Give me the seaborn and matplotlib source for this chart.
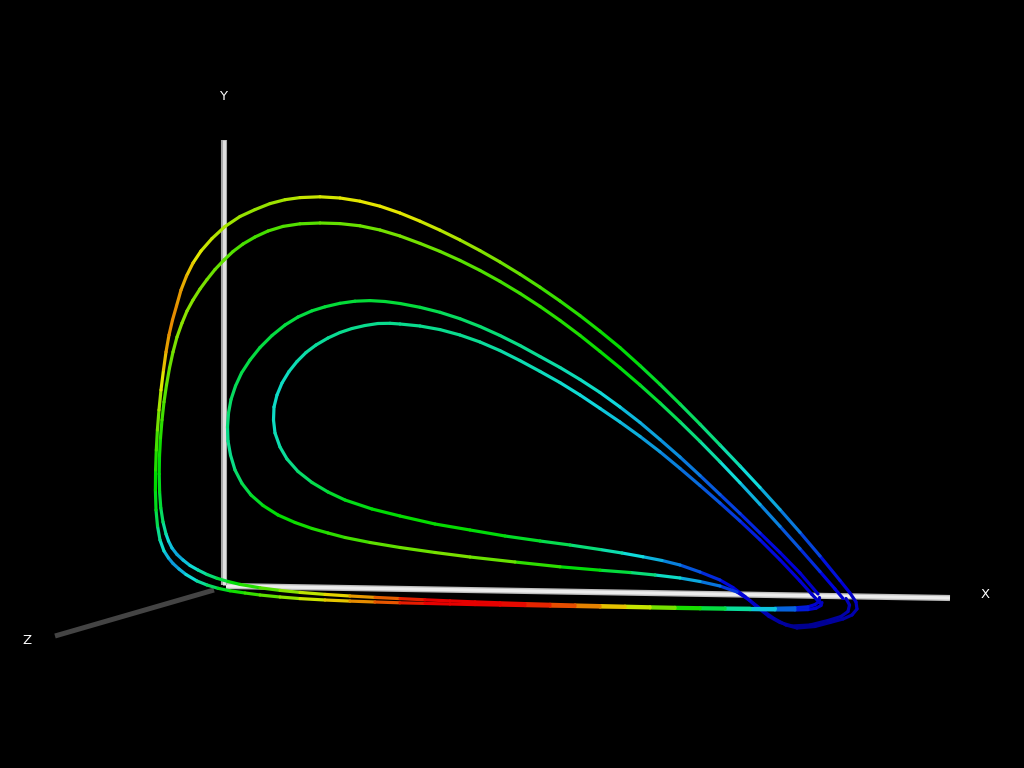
import matplotlib
matplotlib.use("Agg")
import matplotlib.pyplot as plt
import seaborn as sns
import pandas as pd

inner_x = [820, 812, 800, 780, 760, 740, 720, 700, 680, 660,
           640, 620, 600, 580, 560, 540, 520, 500, 480, 460,
           440, 420, 400, 390, 378, 365, 352, 340, 328, 316,
           306, 297, 289, 282, 277, 274, 273.5, 275, 280, 287,
           298, 312, 328, 345, 372, 400, 435, 470, 505, 540,
           570, 600, 622, 643, 662, 680, 700, 720, 733, 745,
           757, 769, 780, 792, 810, 828, 841, 848, 849.5, 846]
inner_y = [603, 594.5, 581, 559.8, 539.8, 521, 503, 485.5, 468.4, 451.8,
           436.4, 422, 408.4, 395, 382.6, 371.4, 360.6, 350.6, 342, 335,
           329.6, 326, 324, 323.3, 323.5, 325.5, 328.5, 332.5, 338, 345,
           352.5, 361.5, 371.5, 383, 395, 407, 420, 433, 447, 459,
           471.5, 482.5, 492, 500, 509, 516, 524, 530, 536, 541,
           545, 549.5, 553, 556.8, 560.5, 565, 572, 580, 587.5, 596.5,
           607, 616.5, 622.5, 626, 625, 620.5, 616.5, 611.5, 605, 598.5]
inner_speed = [.14, .16, .18, .20, .22, .24, .27, .29, .31, .33,
               .35, .37, .39, .40, .42, .43, .44, .45, .46, .47,
               .47, .47, .47, .47, .47, .47, .47, .47, .46, .46,
               .45, .44, .43, .42, .42, .42, .42, .43, .45, .47,
               .49, .52, .55, .57, .59, .60, .61, .60, .58, .55,
               .51, .47, .42, .38, .34, .30, .26, .22, .20, .17,
               .14, .10, .07, .05, .05, .07, .09, .11, .13, .15]

second_x = [843, 835, 820, 800, 780, 760, 740, 720, 700, 680,
            660, 640, 620, 600, 580, 560, 540, 520, 500, 480,
            460, 440, 420, 400, 380, 360, 340, 320, 300, 283,
            268, 255, 243, 233, 224, 215, 207, 200, 193, 187,
            182, 177, 173, 169.5, 166.5, 164, 162, 160.5, 159.5, 159.2,
            159.6, 160.8, 163, 166, 168.5, 172, 177, 183, 190, 198,
            207, 217, 228, 240, 260, 280, 300, 325, 350, 375,
            400, 425, 450, 475, 500, 525, 550, 575, 600, 625,
            650, 675, 700, 725, 750, 775, 795, 808, 815, 819, 819]
second_y = [598.5, 589, 571.6, 548.8, 526.4, 504.4, 482.8, 461.8, 441.4, 421.8,
            403, 385, 367.8, 351.4, 335.4, 320.4, 306.4, 293.4, 281.4, 270.4,
            260.4, 251.4, 243.4, 236, 230, 225.8, 223.6, 223, 223.8, 226.4,
            231, 237, 244, 251.5, 260, 269.5, 279.5, 289, 300, 311,
            323, 337, 352, 368, 385, 402, 420, 438, 456, 474,
            492, 508, 522, 534, 541, 548, 554.5, 560, 565.5, 570,
            574.5, 578.3, 581.5, 584.4, 587.8, 590.4, 592.4, 594.4, 596, 597.4,
            598.6, 599.8, 600.9, 601.9, 602.8, 603.6, 604.3, 605, 605.6, 606.2,
            606.8, 607.3, 607.7, 608, 608.2, 608.2, 607.8, 606.8, 604.6, 601.5, 597]
second_speed = [.17, .19, .22, .26, .30, .34, .38, .43, .47, .51,
                .54, .57, .60, .60, .62, .63, .64, .65, .66, .67,
                .68, .69, .70, .70, .70, .69, .69, .68, .67, .67,
                .66, .66, .66, .67, .68, .69, .70, .71, .71, .72,
                .72, .71, .70, .69, .68, .67, .65, .62, .60, .58,
                .57, .53, .49, .43, .39, .36, .35, .36, .39, .43,
                .47, .52, .57, .61, .65, .69, .74, .79, .84, .89,
                .94, 1.0, 1.0, 1.0, 1.0, .98, .95, .91, .86, .80,
                .74, .66, .58, .50, .42, .33, .25, .20, .17, .15, .14]

third_x = [818, 800, 780, 760, 740, 720, 700, 680, 660, 640,
           620, 600, 580, 560, 540, 520, 500, 480, 460, 440,
           420, 400, 385, 370, 355, 340, 325, 312, 298, 285,
           272, 260, 250, 241.5, 235.5, 231, 228.5, 227.5, 228, 230.5,
           235, 242, 251, 263, 278, 295, 312, 328, 345, 370,
           400, 435, 470, 515, 560, 600, 630, 655, 680, 700,
           720, 737, 750, 762, 774, 786, 797, 815, 830, 843,
           852, 857, 856, 850]
third_y = [594, 573, 552.5, 533, 513.5, 494.5, 475.5, 457, 439.5, 422.5,
           407, 392.5, 379.5, 367.5, 356.5, 345.5, 335.5, 326.5, 318.7, 312.3,
           307.3, 303.5, 301.5, 300.6, 301.2, 303.3, 306.8, 310.8, 317, 325,
           335.5, 347.5, 360, 373, 386, 399.5, 413, 427, 441, 455,
           470, 483.5, 495, 505.5, 515, 522.5, 528.5, 533, 537.5, 542.5,
           547.5, 552.5, 557, 562, 566.8, 570.2, 572.5, 575, 578, 581.5,
           586, 592, 600.5, 610, 618.5, 625, 628, 626.5, 622.5, 619,
           615, 609, 602, 593]
third_speed = [.15, .17, .20, .22, .25, .27, .30, .32, .34, .36,
               .38, .41, .43, .44, .46, .47, .49, .50, .51, .52,
               .54, .55, .55, .55, .55, .55, .55, .54, .54, .54,
               .54, .54, .54, .53, .52, .51, .50, .48, .47, .47,
               .49, .52, .55, .58, .60, .61, .62, .63, .65, .67,
               .69, .70, .71, .67, .61, .57, .52, .46, .38, .33,
               .28, .22, .17, .13, .10, .07, .05, .05, .07, .08,
               .10, .12, .14, .15]

outer_x = [850, 840, 820, 800, 780, 760, 740, 720, 700, 680,
           660, 640, 620, 600, 580, 560, 540, 520, 500, 480,
           460, 440, 420, 400, 380, 360, 340, 320, 300, 285,
           270, 255, 240, 225, 212, 201, 193, 186.5, 181, 176.5,
           172.5, 169, 166, 163.5, 161, 159, 157.4, 156.3, 155.6, 155.4,
           156, 157.5, 160, 164, 168.5, 173, 179, 186, 197, 207,
           218, 230, 245, 260, 280, 300, 325, 350, 375, 400,
           425, 450, 475, 500, 525, 550, 575, 600, 625, 650,
           675, 700, 725, 750, 775, 795, 808, 816, 821, 822]
outer_y = [593, 580.5, 556, 532.4, 509.6, 487.5, 466, 445, 424.2, 404,
           384.4, 365.6, 347.6, 331.2, 315.6, 301, 287.2, 274.2, 262, 250.6,
           240, 230.2, 221.2, 213, 206.2, 201.2, 198, 196.8, 197.6, 199.7,
           203.6, 209.6, 216.5, 226.5, 238.5, 251, 263, 276, 290, 306,
           320, 335, 352, 370, 390, 410, 430, 450, 470, 490,
           510, 526, 540, 551, 558, 563.5, 569, 574.5, 581, 585,
           588.3, 590.8, 593, 595, 597, 598.6, 600, 601.1, 602, 602.8,
           603.4, 604, 604.6, 605.1, 605.6, 606.1, 606.5, 607, 607.4, 607.9,
           608.4, 608.8, 609.2, 609.6, 609.9, 610, 609.6, 608.2, 605.5, 602.5]
outer_speed = [.17, .19, .24, .29, .33, .38, .42, .47, .50, .53,
               .56, .58, .60, .61, .63, .64, .66, .68, .70, .72,
               .74, .76, .78, .80, .80, .80, .79, .78, .76, .74,
               .73, .73, .73, .74, .76, .78, .81, .84, .86, .87,
               .88, .87, .85, .82, .77, .72, .68, .64, .61, .59,
               .56, .50, .44, .39, .35, .33, .35, .38, .43, .49,
               .54, .60, .63, .66, .70, .75, .80, .85, .90, .95,
               1.0, 1.0, 1.0, 1.0, .98, .95, .91, .86, .80, .74,
               .66, .58, .50, .42, .33, .25, .20, .17, .15, .14]

# axis ends
x_axis_x = [226, 950]
x_axis_y = [586, 598]
y_axis_x = [224, 224]
y_axis_y = [140, 585]
z_axis_x = [55, 214]
z_axis_y = [636, 590]

axis_labels = ["X", "Y", "Z"]

turns = [(inner_x, inner_y, inner_speed),
         (second_x, second_y, second_speed),
         (third_x, third_y, third_speed),
         (outer_x, outer_y, outer_speed)]


def TurnSegments(turns):
    '''
    FUNCTION to cut the curves in two-point pieces, each piece gets its own colour.
    '''
    rows = []
    seg = 0
    for xs, ys, speed in turns:
        assert len(xs) == len(ys) == len(speed), f"{len(xs)} {len(ys)} {len(speed)}"
        for ii in range(len(xs) - 1):
            val = (speed[ii] + speed[ii + 1]) / 2
            rows.append((seg, xs[ii], ys[ii], val))
            rows.append((seg, xs[ii + 1], ys[ii + 1], val))
            seg += 1
    return pd.DataFrame(rows, columns=["seg", "x", "y", "speed"])


sns.set_theme(style="white", rc={"figure.facecolor": "black", "axes.facecolor": "black"})
plt.rcParams['font.family'] = ['DejaVu Sans']

fig = plt.figure(figsize=(10.24, 7.68), dpi=100)
ax = fig.add_axes([0, 0, 1, 1])

rainbow = sns.blend_palette(["#000078", "#0000dc", "#10dcdc", "#00dc00", "#e6e600", "#e60000"], as_cmap=True)

axis_kws = dict(sort=False, estimator=None, solid_capstyle="butt", ax=ax)
sns.lineplot(x=z_axis_x, y=z_axis_y, color="#444444", lw=3.6, **axis_kws)
sns.lineplot(x=x_axis_x, y=x_axis_y, color="#bdbdbd", lw=4.4, **axis_kws)
sns.lineplot(x=x_axis_x, y=x_axis_y, color="#ececec", lw=2.4, **axis_kws)
sns.lineplot(x=y_axis_x, y=y_axis_y, color="#a8a8a8", lw=4.4, **axis_kws)
sns.lineplot(x=y_axis_x, y=y_axis_y, color="#e0e0e0", lw=2.2, **axis_kws)

df = TurnSegments(turns)
sns.lineplot(data=df, x="x", y="y", hue="speed", units="seg", estimator=None, sort=False,
             palette=rainbow, hue_norm=(0, 1), lw=2.3, legend=False, ax=ax)

ax.text(985, 595, axis_labels[0], color="white", fontsize=9.5, ha="center", va="center")
ax.text(223, 97, axis_labels[1], color="white", fontsize=9.5, ha="center", va="center")
ax.text(27, 641, axis_labels[2], color="white", fontsize=9.5, ha="center", va="center")

ax.set_xlim(0, 1024)
ax.set_ylim(768, 0)
ax.axis("off")

fig.savefig("out.png", dpi=100, facecolor="black")
